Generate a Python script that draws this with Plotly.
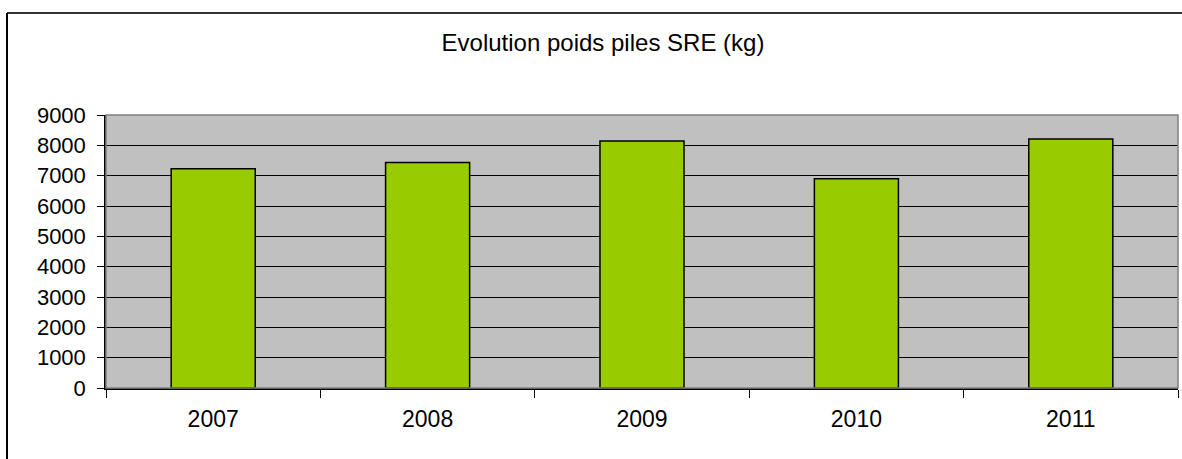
import plotly.graph_objects as go

years = ["2007", "2008", "2009", "2010", "2011"]
poids = [7230, 7430, 8140, 6900, 8210]
y_ticks = [0, 1000, 2000, 3000, 4000, 5000, 6000, 7000, 8000, 9000]
title_text = "Evolution poids piles SRE (kg)"

W, H = 1182, 459
L, T = 106, 115
pw, ph = 1072, 273
R = W - L - pw
B = H - T - ph

def px_x(p):
    return (p - L) / pw

def px_y(p):
    return (T + ph - p) / ph

fig = go.Figure(go.Bar(
    x=years, y=poids,
    marker=dict(color="#99CC00", line=dict(color="black", width=1.5)),
    width=0.392,
))

fam = "Liberation Sans, Arial, sans-serif"
xfont = dict(family=fam, size=23, color="black")
yfont = dict(family=fam, size=22, color="black")

fig.update_layout(
    width=W, height=H,
    margin=dict(l=L, r=R, t=T, b=B, autoexpand=False),
    paper_bgcolor="white",
    plot_bgcolor="#C0C0C0",
    showlegend=False,
    font=xfont,
    title=dict(text=title_text, x=px_x(603), xref="paper", xanchor="center",
               y=1 - 43 / H, yanchor="middle", yref="container",
               font=dict(family=fam, size=24, color="black")),
    xaxis=dict(
        type="category", tickson="boundaries", ticks="outside", ticklen=8,
        tickcolor="black", tickwidth=1, showgrid=False,
        showline=True, linecolor="black", linewidth=1.5,
        tickfont=xfont, range=[-0.5, 4.5], ticklabelstandoff=10,
    ),
    yaxis=dict(
        range=[0, 9000], tickvals=y_ticks, ticktext=[str(v) for v in y_ticks],
        ticks="outside", ticklen=7, tickcolor="black", tickwidth=1,
        showgrid=True, gridcolor="black", gridwidth=1,
        showline=True, linecolor="black", linewidth=1.5,
        zeroline=False, tickfont=yfont, ticklabelstandoff=7,
    ),
    shapes=[
        dict(type="rect", xref="paper", yref="paper", x0=0, x1=1, y0=0, y1=1,
             line=dict(color="#808080", width=1.5), layer="above"),
        dict(type="line", xref="paper", yref="paper",
             x0=px_x(7), x1=px_x(W), y0=px_y(13), y1=px_y(13),
             line=dict(color="#333333", width=2), layer="below"),
        dict(type="line", xref="paper", yref="paper",
             x0=px_x(7), x1=px_x(7), y0=px_y(13), y1=px_y(H),
             line=dict(color="black", width=2), layer="below"),
    ],
)

fig.write_html("out.html", config={"displayModeBar": False},
               post_script="document.body.style.margin='0';")
